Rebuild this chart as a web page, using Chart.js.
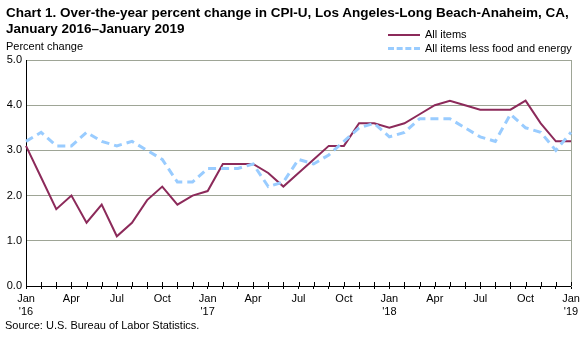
<!DOCTYPE html>
<html>
<head>
<meta charset="utf-8">
<script src="https://cdn.jsdelivr.net/npm/chart.js@4"></script>
<style>
body { margin: 0; background: #fff; font-family: "Liberation Sans", Arial, sans-serif; }
#wrap { position: relative; width: 588px; height: 337px; }
#grafico { position: absolute; left: 0; top: 0; }
.txt { position: absolute; color: #000; white-space: nowrap; }
.titulo { font-weight: bold; font-size: 13.5px; left: 6px; line-height: 16px; }
.peq { font-size: 11px; }
.leyenda-linea { position: absolute; width: 32px; height: 0; }
</style>
</head>
<body>
<div id="wrap">
  <canvas id="grafico" width="588" height="337"></canvas>
  <div class="txt titulo" style="top:5px;">Chart 1. Over-the-year percent change in CPI-U, Los Angeles-Long Beach-Anaheim, CA,</div>
  <div class="txt titulo" style="top:21px;">January 2016&ndash;January 2019</div>
  <div class="txt peq" style="left:6px; top:40px;">Percent change</div>
  <div class="leyenda-linea" style="left:388px; top:34px; border-top:2px solid #8c2a5a;"></div>
  <div class="txt peq" style="left:425px; top:28px;">All items</div>
  <div class="leyenda-linea" style="left:388px; top:47px; border-top:3px dashed #99ccff;"></div>
  <div class="txt peq" style="left:425px; top:42px;">All items less food and energy</div>
  <div class="txt peq" style="left:5px; top:319px;">Source: U.S. Bureau of Labor Statistics.</div>
</div>
<script>
const meses = [
  ['Jan', "'16"], '', '', 'Apr', '', '', 'Jul', '', '', 'Oct', '', '',
  ['Jan', "'17"], '', '', 'Apr', '', '', 'Jul', '', '', 'Oct', '', '',
  ['Jan', "'18"], '', '', 'Apr', '', '', 'Jul', '', '', 'Oct', '', '',
  ['Jan', "'19"]
];

const todos = [
  3.1, 2.4, 1.7, 2.0, 1.4, 1.8, 1.1, 1.4, 1.9, 2.2, 1.8, 2.0,
  2.1, 2.7, 2.7, 2.7, 2.5, 2.2, 2.5, 2.8, 3.1, 3.1, 3.6, 3.6,
  3.5, 3.6, 3.8, 4.0, 4.1, 4.0, 3.9, 3.9, 3.9, 4.1, 3.6, 3.2,
  3.2
];

const sinAlimentos = [
  3.2, 3.4, 3.1, 3.1, 3.4, 3.2, 3.1, 3.2, 3.0, 2.8, 2.3, 2.3,
  2.6, 2.6, 2.6, 2.7, 2.2, 2.3, 2.8, 2.7, 2.9, 3.2, 3.5, 3.6,
  3.3, 3.4, 3.7, 3.7, 3.7, 3.5, 3.3, 3.2, 3.8, 3.5, 3.4, 3.0,
  3.4
];

const marcasY = [0, 1, 2, 3, 4, 5];

// small tick marks above the x axis (reference ticks cross the axis line)
const marcasArriba = {
  id: 'marcasArriba',
  afterDatasetsDraw(chart) {
    const x = chart.scales.x;
    const c = chart.ctx;
    c.save();
    c.strokeStyle = '#000';
    c.lineWidth = 1;
    for (let i = 0; i < meses.length; i++) {
      const px = Math.round(x.getPixelForTick(i)) + 0.5;
      c.beginPath();
      c.moveTo(px, x.top - 4);
      c.lineTo(px, x.top);
      c.stroke();
    }
    c.restore();
  }
};

const ctx = document.getElementById('grafico').getContext('2d');

new Chart(ctx, {
  type: 'line',
  data: {
    labels: meses,
    datasets: [
      {
        label: 'All items less food and energy',
        data: sinAlimentos,
        borderColor: '#99ccff',
        borderWidth: 3,
        borderDash: [8, 5],
        pointRadius: 0,
        tension: 0,
        fill: false
      },
      {
        label: 'All items',
        data: todos,
        borderColor: '#8c2a5a',
        borderWidth: 2,
        pointRadius: 0,
        tension: 0,
        fill: false
      }
    ]
  },
  options: {
    responsive: false,
    animation: false,
    layout: { padding: { top: 60, right: 17, left: 0, bottom: 0 } },
    plugins: {
      legend: { display: false },
      tooltip: { enabled: false }
    },
    scales: {
      x: {
        offset: false,
        afterFit(scale) { scale.height = 51; },
        grid: {
          drawOnChartArea: false,
          drawTicks: true,
          tickLength: 3,
          color: '#000'
        },
        border: { color: '#000', width: 1 },
        ticks: {
          autoSkip: false,
          maxRotation: 0,
          color: '#000',
          padding: 3,
          font: { family: '"Liberation Sans", Arial', size: 11 }
        }
      },
      y: {
        min: 0,
        max: 5,
        afterFit(scale) { scale.width = 26; },
        afterBuildTicks(scale) { scale.ticks = marcasY.map(v => ({ value: v })); },
        grid: {
          color: '#9ea596',
          lineWidth: 1,
          drawTicks: false
        },
        border: { color: '#000', width: 1 },
        ticks: {
          color: '#000',
          padding: 4,
          font: { family: '"Liberation Sans", Arial', size: 11 },
          callback: v => v.toFixed(1)
        }
      },
      y2: {
        position: 'right',
        min: 0,
        max: 5,
        afterFit(scale) { scale.width = 0; },
        grid: { drawOnChartArea: false, drawTicks: false },
        border: { color: '#9ea596', width: 1 },
        ticks: { display: false }
      }
    }
  },
  plugins: [marcasArriba]
});
</script>
</body>
</html>
